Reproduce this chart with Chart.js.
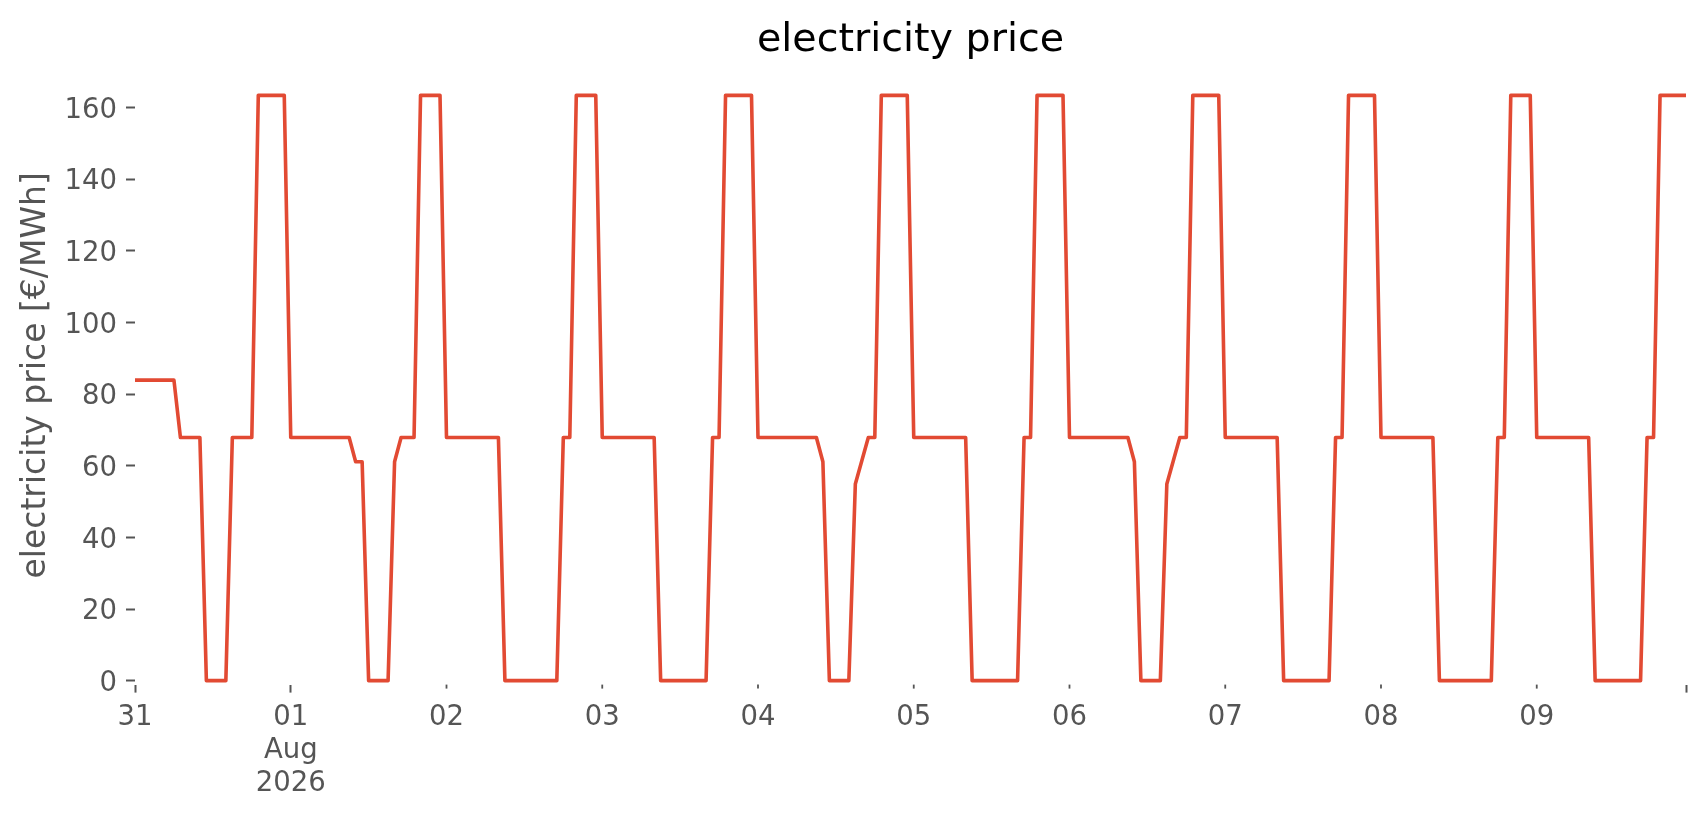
<!DOCTYPE html>
<html>
<head>
<meta charset="utf-8">
<script src="https://cdn.jsdelivr.net/npm/chart.js@4.4.1/dist/chart.umd.min.js"></script>
<style>
html,body{margin:0;padding:0;background:#fff;overflow:hidden;}
#wrap{position:relative;width:1706px;height:815px;}
</style>
</head>
<body>
<div id="wrap"><canvas id="c"></canvas></div>
<script>
// ---- data (hourly electricity price, €/MWh), 31 Jul 2026 00:00 .. 09 Aug 2026 23:00 ----
const jul31 = [83.9,83.9,83.9,83.9,83.9,83.9,83.9,67.9,67.9,67.9,67.9,0,0,0,0,67.9,67.9,67.9,67.9,163.4,163.4,163.4,163.4,163.4];
const aug01 = [67.9,67.9,67.9,67.9,67.9,67.9,67.9,67.9,67.9,67.9,61.1,61.1,0,0,0,0,61.1,67.9,67.9,67.9,163.4,163.4,163.4,163.4];
const aug02 = [67.9,67.9,67.9,67.9,67.9,67.9,67.9,67.9,67.9,0,0,0,0,0,0,0,0,0,67.9,67.9,163.4,163.4,163.4,163.4];
const aug03 = [67.9,67.9,67.9,67.9,67.9,67.9,67.9,67.9,67.9,0,0,0,0,0,0,0,0,67.9,67.9,163.4,163.4,163.4,163.4,163.4];
const aug04 = [67.9,67.9,67.9,67.9,67.9,67.9,67.9,67.9,67.9,67.9,61.1,0,0,0,0,54.9,61.4,67.9,67.9,163.4,163.4,163.4,163.4,163.4];
const aug05 = [67.9,67.9,67.9,67.9,67.9,67.9,67.9,67.9,67.9,0,0,0,0,0,0,0,0,67.9,67.9,163.4,163.4,163.4,163.4,163.4];
const aug06 = [67.9,67.9,67.9,67.9,67.9,67.9,67.9,67.9,67.9,67.9,61.1,0,0,0,0,54.9,61.4,67.9,67.9,163.4,163.4,163.4,163.4,163.4];
const aug07 = [67.9,67.9,67.9,67.9,67.9,67.9,67.9,67.9,67.9,0,0,0,0,0,0,0,0,67.9,67.9,163.4,163.4,163.4,163.4,163.4];
const aug08 = [67.9,67.9,67.9,67.9,67.9,67.9,67.9,67.9,67.9,0,0,0,0,0,0,0,0,0,67.9,67.9,163.4,163.4,163.4,163.4];
const aug09 = [67.9,67.9,67.9,67.9,67.9,67.9,67.9,67.9,67.9,0,0,0,0,0,0,0,0,67.9,67.9,163.4,163.4,163.4,163.4,163.4];

// x tick positions (hours since 31 Jul 00:00) and their labels
const tickHours  = [0,24,48,72,96,120,144,168,192,216,239];
const tickLabels = ['31',['01','Aug','2026'],'02','03','04','05','06','07','08','09',''];
const majorTickHours = [0,24,239];
const yTickValues = [0,20,40,60,80,100,120,140,160];

const price = [].concat(jul31,aug01,aug02,aug03,aug04,aug05,aug06,aug07,aug08,aug09);
const points = price.map((v,i) => ({x:i, y:v}));

const FONT = "'DejaVu Sans', 'Liberation Sans', sans-serif";
const GREY = '#555555';

const minorTicks = {
  id: 'minorTicks',
  afterDraw(chart) {
    const s = chart.scales.x, ctx = chart.ctx;
    ctx.save();
    ctx.strokeStyle = GREY;
    ctx.lineWidth = 1.8;
    tickHours.forEach(h => {
      if (majorTickHours.includes(h)) return;
      const px = s.getPixelForValue(h);
      ctx.beginPath();
      ctx.moveTo(px, s.top);
      ctx.lineTo(px, s.top + 4);
      ctx.stroke();
    });
    ctx.restore();
  }
};

new Chart(document.getElementById('c'), {
  type: 'line',
  data: {
    datasets: [{
      data: points,
      borderColor: '#E24A33',
      backgroundColor: '#E24A33',
      borderWidth: 3.6,
      pointRadius: 0,
      tension: 0,
      fill: false,
      borderJoinStyle: 'round',
      clip: false
    }]
  },
  options: {
    responsive: true,
    maintainAspectRatio: false,
    animation: false,
    events: [],
    layout: { padding: { left: 0, right: 20, top: 0, bottom: 0 } },
    plugins: {
      legend: { display: false },
      tooltip: { enabled: false },
      title: {
        display: true,
        fullSize: false,
        text: 'electricity price',
        color: '#000000',
        font: { family: FONT, size: 39.6, weight: 'normal', lineHeight: 1.2 },
        padding: { top: 17, bottom: 1.5 }
      }
    },
    scales: {
      x: {
        type: 'linear',
        min: 0,
        max: 239,
        border: { display: false },
        grid: {
          display: true,
          drawOnChartArea: false,
          drawTicks: true,
          tickLength: 8,
          tickWidth: 2,
          tickColor: ctx => (ctx.tick && majorTickHours.includes(ctx.tick.value)) ? GREY : 'rgba(0,0,0,0)'
        },
        afterBuildTicks: s => { s.ticks = tickHours.map(v => ({ value: v })); },
        afterFit: s => { s.height = 130.4; },
        ticks: {
          autoSkip: false,
          maxRotation: 0,
          minRotation: 0,
          padding: 9,
          color: GREY,
          font: { family: FONT, size: 27.5, lineHeight: 1.2 },
          callback: (v, i) => tickLabels[i]
        }
      },
      y: {
        min: -1.1,
        max: 171.6,
        border: { display: false },
        grid: {
          display: true,
          drawOnChartArea: false,
          tickLength: 9,
          tickWidth: 2,
          tickColor: GREY
        },
        afterBuildTicks: s => { s.ticks = yTickValues.map(v => ({ value: v })); },
        afterFit: s => { s.width = 135; },
        ticks: {
          padding: 9,
          labelOffset: 3,
          color: GREY,
          font: { family: FONT, size: 27.5 },
          callback: v => String(v)
        },
        title: {
          display: true,
          text: 'electricity price [€/MWh]',
          color: GREY,
          font: { family: FONT, size: 33, lineHeight: 1.2 },
          padding: { top: 17, bottom: 0 }
        }
      }
    }
  },
  plugins: [minorTicks]
});
</script>
</body>
</html>
